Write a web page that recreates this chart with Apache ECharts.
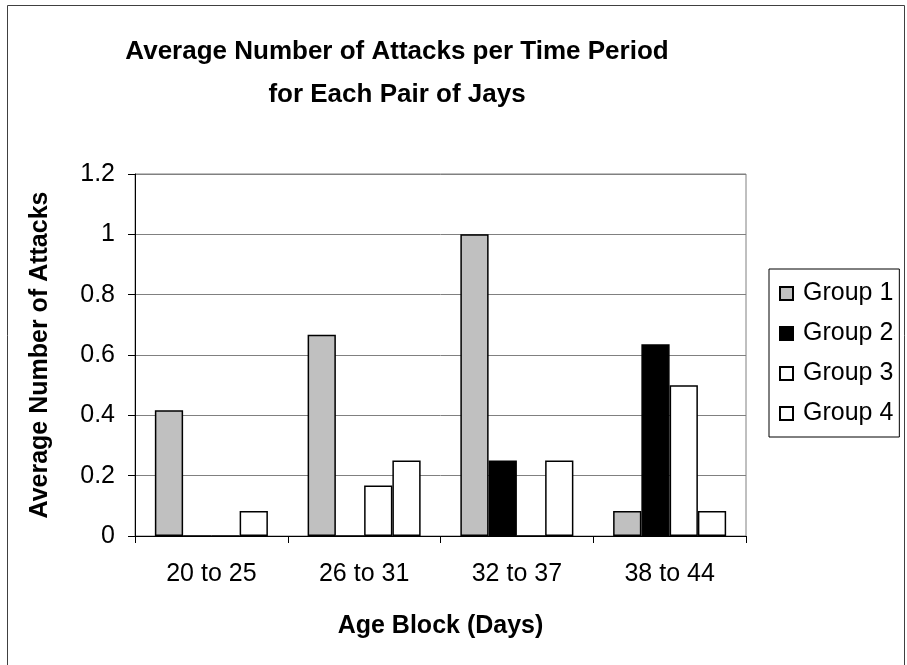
<!DOCTYPE html>
<html>
<head>
<meta charset="utf-8">
<script src="https://cdn.jsdelivr.net/npm/echarts@6/dist/echarts.min.js"></script>
<style>
  html, body { margin: 0; padding: 0; background: #fff; }
  #chart { width: 907px; height: 665px; }
</style>
</head>
<body>
<div id="chart"></div>
<script>
// Age blocks on the x axis
var ageBlocks = ['20 to 25', '26 to 31', '32 to 37', '38 to 44'];

// Average attacks per time period, one array per group of jays
var group1 = [0.417, 0.667, 1.0, 0.083];
var group2 = [0, 0, 0.25, 0.636];
var group3 = [0, 0.167, 0, 0.5];
var group4 = [0.083, 0.25, 0.25, 0.083];

var groupNames = ['Group 1', 'Group 2', 'Group 3', 'Group 4'];
var groupValues = [group1, group2, group3, group4];
var groupFills = ['#C0C0C0', '#000000', '#FFFFFF', '#FFFFFF'];

var FONT = '"Liberation Sans", Arial, sans-serif';

var chart = echarts.init(document.getElementById('chart'), null, { renderer: 'canvas' });

var series = groupNames.map(function (name, i) {
  return {
    name: name,
    type: 'bar',
    data: groupValues[i],
    barGap: '0%',
    barCategoryGap: '26%',
    itemStyle: { color: groupFills[i], borderColor: '#000', borderWidth: 1.5 },
    emphasis: { disabled: true }
  };
});

chart.setOption({
  animation: false,
  backgroundColor: '#fff',
  title: {
    text: 'Average Number of Attacks per Time Period\nfor Each Pair of Jays',
    left: 392,
    top: 25,
    textAlign: 'center',
    textStyle: { fontFamily: FONT, fontSize: 26, fontWeight: 'bold', color: '#000', lineHeight: 43 }
  },
  graphic: [{
    type: 'rect',
    shape: { x: 7.5, y: 5.5, width: 897, height: 662 },
    style: { fill: null, stroke: '#404040', lineWidth: 1 },
    silent: true
  }],
  legend: {
    orient: 'vertical',
    left: 769,
    top: 269,
    padding: [12, 6, 11, 10],
    itemGap: 15,
    itemWidth: 13,
    itemHeight: 13,
    icon: 'rect',
    borderColor: '#000',
    borderWidth: 1,
    textStyle: { fontFamily: FONT, fontSize: 25, color: '#000', lineHeight: 25, padding: [0, 0, 0, 5] },
    data: groupNames
  },
  grid: { left: 135, right: 161, top: 174, bottom: 129, show: true, borderColor: '#808080', borderWidth: 1, containLabel: false },
  xAxis: {
    type: 'category',
    data: ageBlocks,
    name: 'Age Block (Days)',
    nameLocation: 'middle',
    nameGap: 78,
    nameTextStyle: { fontFamily: FONT, fontSize: 25, fontWeight: 'bold', color: '#000' },
    axisLine: { lineStyle: { color: '#000', width: 1 } },
    axisTick: { show: true, length: 7, lineStyle: { color: '#000' }, alignWithLabel: false },
    axisLabel: { fontFamily: FONT, fontSize: 25, color: '#000', margin: 26 },
    splitLine: { show: false }
  },
  yAxis: {
    type: 'value',
    min: 0,
    max: 1.2,
    interval: 0.2,
    name: 'Average Number of Attacks',
    nameLocation: 'middle',
    nameGap: 82,
    nameTextStyle: { fontFamily: FONT, fontSize: 25, fontWeight: 'bold', color: '#000' },
    axisLine: { show: true, lineStyle: { color: '#000', width: 1 } },
    axisTick: { show: true, length: 7, lineStyle: { color: '#000' } },
    axisLabel: { fontFamily: FONT, fontSize: 25, color: '#000', margin: 20 },
    splitLine: { show: true, lineStyle: { color: '#808080', width: 1 } }
  },
  series: series
});
</script>
</body>
</html>
